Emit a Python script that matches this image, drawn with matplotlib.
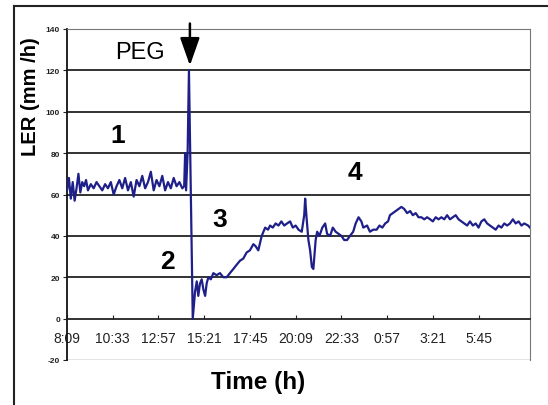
import matplotlib
matplotlib.use("Agg")
import matplotlib.pyplot as plt
from matplotlib.lines import Line2D

plt.rcParams['font.family'] = ['Liberation Sans', 'DejaVu Sans']

# hours elapsed since 8:09 and leaf elongation rate (mm/h)
hours = [0.00, 0.10, 0.20, 0.30, 0.40, 0.50, 0.60, 0.70, 0.80, 0.90, 1.00, 1.10,
         1.25, 1.40, 1.55, 1.70, 1.85, 2.00, 2.15, 2.30, 2.45, 2.60, 2.75, 2.90,
         3.05, 3.20, 3.35, 3.50, 3.65, 3.80, 3.95, 4.10, 4.25, 4.40, 4.55, 4.70,
         4.85, 5.00, 5.15, 5.30, 5.45, 5.60, 5.75, 5.90, 6.05, 6.15,
         6.20, 6.25, 6.33, 6.40, 6.60,
         6.72, 6.81, 6.89, 6.98, 7.07, 7.16, 7.25, 7.33, 7.42, 7.55, 7.68, 7.85,
         8.03, 8.20, 8.38, 8.55, 8.73, 8.90, 9.08, 9.25, 9.43, 9.60, 9.78, 9.90,
         10.04, 10.22, 10.40, 10.55, 10.66, 10.80, 10.95, 11.10, 11.25, 11.40,
         11.55, 11.71, 11.85, 12.00, 12.15, 12.32, 12.45, 12.50, 12.58, 12.67,
         12.76, 12.85, 12.93, 13.05, 13.13, 13.25, 13.40, 13.55, 13.65, 13.81,
         13.95, 14.10, 14.25, 14.40, 14.55, 14.70, 14.85, 15.02, 15.15, 15.30,
         15.45, 15.55, 15.75, 15.90, 16.07, 16.25, 16.40, 16.55, 16.70, 16.85,
         16.95, 17.10, 17.25, 17.40, 17.55, 17.70, 17.85, 18.01, 18.15, 18.30,
         18.45, 18.60, 18.75, 18.90, 19.06, 19.20, 19.35, 19.50, 19.65, 19.80,
         19.95, 20.10, 20.25, 20.40, 20.55, 20.70, 20.85, 21.00, 21.15, 21.30,
         21.45, 21.60, 21.75, 21.90, 22.05, 22.20, 22.35, 22.50, 22.65, 22.80,
         22.95, 23.10, 23.25, 23.40, 23.55, 23.70, 23.85, 24.00, 24.20, 24.30]
ler = [62, 68, 58, 66, 57, 63, 70, 61, 66, 64, 67, 62,
       65, 63, 66, 64, 62, 65, 63, 66, 60, 64, 67, 63,
       68, 62, 66, 59, 67, 64, 69, 63, 66, 71, 62, 67,
       64, 69, 62, 66, 63, 68, 64, 66, 63, 64,
       80, 62, 80, 120, 0,
       13, 18, 11, 17, 19, 14, 11, 17, 20, 19, 22, 21,
       22, 20, 20, 22, 24, 26, 28, 29, 32, 33, 36, 35,
       33, 40, 44, 43, 45, 44, 46, 45, 47, 45,
       46, 47, 44, 45, 43, 42, 50, 58, 48, 38,
       33, 25, 24, 38, 42, 40, 44, 46, 41, 40,
       44, 42, 41, 40, 38, 38, 40, 42, 46, 49,
       47, 44, 45, 42, 43, 43, 45, 44, 46, 47,
       50, 51, 52, 53, 54, 53, 51, 52, 50, 51,
       49, 49, 48, 49, 48, 47, 49, 48, 49, 48,
       50, 48, 49, 50, 48, 47, 46, 45, 47, 45,
       46, 44, 47, 48, 46, 45, 44, 43, 45, 44,
       46, 45, 46, 48, 46, 47, 45, 46, 45, 44]

tick_hours = [0, 2.4, 4.8, 7.2, 9.6, 12.0, 14.4, 16.8, 19.2, 21.6]
tick_labels = ["8:09", "10:33", "12:57", "15:21", "17:45", "20:09",
               "22:33", "0:57", "3:21", "5:45"]
y_ticks = [-20, 0, 20, 40, 60, 80, 100, 120, 140]
phases = ["1", "2", "3", "4"]
phase_pos = [(2.68, 89), (5.25, 28), (8.03, 48), (15.1, 71)]

fig = plt.figure(figsize=(5.48, 4.06), dpi=100)
ax = fig.add_axes([67/548, 1 - 361/406, 463/548, 331/406])

# horizontal grid (Excel style)
for yv in y_ticks[2:-1]:
    ax.axhline(yv, color='#222222', lw=1.3, zorder=1)

ax.plot(hours, ler, color='#1f1f8a', lw=1.6, zorder=3)

ax.set_xlim(0, 24.3)
ax.set_ylim(-20, 140)
ax.set_yticks(y_ticks)
ax.set_yticklabels([str(v) for v in y_ticks], fontsize=6, fontweight='bold')
ax.set_xticks(tick_hours)
ax.set_xticklabels(tick_labels, fontsize=5.5)

ax.spines['bottom'].set_position(('data', 0))
ax.spines['bottom'].set_color('#222222')
ax.spines['bottom'].set_linewidth(1.3)
ax.spines['left'].set_color('#111111')
ax.spines['left'].set_linewidth(1.3)
ax.spines['top'].set_color('#777777')
ax.spines['right'].set_color('#777777')
ax.axhline(-20, color='#777777', lw=1.0, zorder=1)
ax.tick_params(axis='x', direction='in', length=3, pad=9, colors='#222222')
ax.tick_params(axis='y', direction='out', length=3, pad=2, colors='#222222')

for lab, (px, py) in zip(phases, phase_pos):
    ax.text(px, py, lab, fontsize=19, fontweight='bold', ha='center', va='center')

ax.text(3.83, 129, "PEG", fontsize=17, ha='center', va='center')
ax.annotate("", xy=(6.45, 121), xytext=(6.45, 144),
            arrowprops=dict(arrowstyle='-|>,head_width=0.6,head_length=1.7',
                            color='black', lw=1.8),
            annotation_clip=False)

fig.text(30/548, 1 - 97/406, "LER (mm /h)", rotation=90, fontsize=14.5,
         fontweight='bold', ha='center', va='center')
fig.text(258/548, 1 - 383/406, "Time (h)", fontsize=17.5, fontweight='bold',
         ha='center', va='center')

# outer chart frame
fig.add_artist(Line2D([14/548, 1.0], [1 - 7/406, 1 - 7/406], color='#222222', lw=1.5))
fig.add_artist(Line2D([14/548, 14/548], [1 - 7/406, 0.0], color='#222222', lw=1.5))

fig.savefig("out.png", dpi=100, facecolor='white')
